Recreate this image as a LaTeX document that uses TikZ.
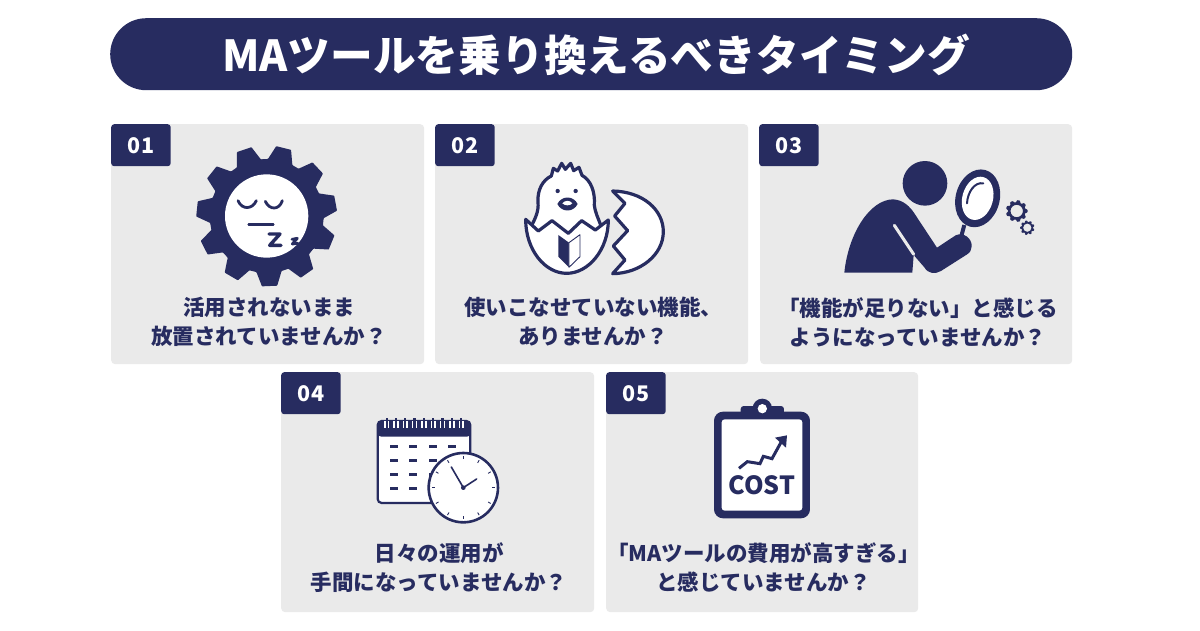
\documentclass[tikz,border=0pt]{standalone}
\usepackage{fontspec}
\usetikzlibrary{calc}
\setmainfont{Noto Sans CJK JP}
\definecolor{navy}{HTML}{272C60}
\definecolor{cardbg}{HTML}{EAEAEA}
\tikzset{
 cardbox/.style={fill=cardbg,rounded corners=4pt,minimum width=313pt,minimum height=240pt,anchor=north west,inner sep=0pt},
 tabbox/.style={fill=navy,rounded corners=3pt,minimum width=59.5pt,minimum height=42pt,anchor=north west,inner sep=0pt},
 tabtxt/.style={text=white,inner sep=0pt,font=\bfseries\fontsize{21.5}{21.5}\selectfont},
 captxt/.style={text=navy,align=center,inner sep=0pt,font=\bfseries\fontsize{21.5}{29}\selectfont},
 ico/.style={x=0.3333pt,y=-0.3333pt},
 nl/.style={draw=navy,line join=round,line cap=round},
}
\newcommand{\gearicon}[7]{% cx cy teeth-1 phase root tip hole
 \begin{scope}[shift={(#1,#2)},x=1pt,y=-1pt]
 \pgfmathsetmacro{\pp}{360/(#3+1)}
 \fill[navy,even odd rule,rounded corners=0.6pt] ({#4-0.39*\pp}:#5)
  foreach \i in {0,...,#3}{ -- ({#4+\i*\pp-0.39*\pp}:#5) -- ({#4+\i*\pp-0.19*\pp}:#6) -- ({#4+\i*\pp+0.19*\pp}:#6) -- ({#4+\i*\pp+0.39*\pp}:#5)} -- cycle
  (0,0) circle[radius=#7];
 \end{scope}}
\begin{document}
\begin{tikzpicture}[x=1pt,y=-1pt]
\useasboundingbox (0,0) rectangle (1200,630);
\fill[white] (0,0) rectangle (1200,630);
\node[fill=navy,rounded corners=36pt,minimum width=962pt,minimum height=72pt,inner sep=0pt,anchor=north west] (title) at (110,18) {};
\node[text=white,inner sep=0pt,font=\bfseries\fontsize{42.7}{42.7}\selectfont] (titletxt) at (596,55) {MAツールを乗り換えるべきタイミング};
\node[cardbox] (c1) at (111,124) {};
\node[cardbox] (c2) at (435,124) {};
\node[cardbox,minimum width=312pt] (c3) at (760,124) {};
\node[cardbox] (c4) at (281,372) {};
\node[cardbox,minimum width=312pt] (c5) at (606,372) {};
\node[tabbox] (t1) at (111,124) {};
\node[tabbox] (t2) at (435,124) {};
\node[tabbox] (t3) at (759,124) {};
\node[tabbox] (t4) at (281,372) {};
\node[tabbox] (t5) at (606,372) {};
\node[tabtxt] (n1) at (141,146) {01};
\node[tabtxt] (n2) at (465,146) {02};
\node[tabtxt] (n3) at (789,146) {03};
\node[tabtxt] (n4) at (311,394) {04};
\node[tabtxt] (n5) at (636,394) {05};
\node[captxt] (l1) at (269,322) {活用されないまま\\放置されていませんか？};
\node[captxt] (l2) at (593,322) {使いこなせていない機能、\\ありませんか？};
\node[captxt] (l3) at (918,322) {「機能が足りない」と感じる\\ようになっていませんか？};
\node[captxt] (l4) at (439,567.5) {日々の運用が\\手間になっていませんか？};
\node[captxt] (l5) at (763.5,567.5) {「MAツールの費用が高すぎる」\\と感じていませんか？};
% gear icon
\gearicon{266.7}{216}{10}{-76}{57}{70.5}{0.01}
\begin{scope}[shift={(180,135)},ico]
\fill[white] (260,243) circle[radius=125];
\draw[nl,line width=2.8pt] (174,197) .. controls (186,226) and (218,223) .. (229,197);
\draw[nl,line width=2.8pt] (256,199) .. controls (268,226) and (298,226) .. (307,197);
\draw[nl,line width=2.6pt] (206,268) -- (280,268);
\draw[nl,line width=3.4pt] (267,297) -- (300,297) -- (269,331) -- (303,331);
\draw[nl,line width=2.8pt] (336,313) -- (352,310) -- (337,327) -- (354,325);
\end{scope}
% chick icon
\begin{scope}[shift={(510,150)},ico]
\draw[nl,fill=white,line width=3.2pt] (124,78) -- (130,55) -- (143,63) -- (155,40) -- (166,58) -- (182,40) -- (191,62) -- (207,52) -- (216,76)
  .. controls (242,90) and (256,125) .. (253,165) .. controls (256,190) and (265,205) .. (272,225) -- (272,260) -- (70,260) -- (66,225)
  .. controls (75,205) and (87,185) .. (84,155) .. controls (82,120) and (98,90) .. (124,78) -- cycle;
\draw[nl,fill=white,line width=3.2pt] (47,208) -- (85,243) -- (126,212) -- (175,250) -- (215,212) -- (256,240) -- (295,210)
  .. controls (295,300) and (235,370) .. (170,370) .. controls (105,370) and (47,300) .. (47,208) -- cycle;
\fill[navy] (143,123) circle[radius=6.5] (197,123) circle[radius=6.5];
\fill[navy] (142,162) .. controls (155,136) and (190,136) .. (203,162) .. controls (190,188) and (155,188) .. (142,162) -- cycle;
\fill[white] (157,160) .. controls (165,150) and (180,150) .. (187,160) .. controls (180,168) and (165,168) .. (157,160) -- cycle;
\fill[navy] (145,255) -- (177,278) -- (177,352) -- (145,320) -- cycle;
\draw[nl,line width=0.9pt,fill=white] (177,278) -- (210,254) -- (210,320) -- (177,352) -- cycle;
\draw[nl,fill=white,line width=3.2pt] (308,123) .. controls (400,125) and (460,180) .. (460,245) .. controls (460,315) and (390,370) .. (308,371)
  -- (345,330) -- (310,288) -- (353,242) -- (314,198) -- (345,160) -- cycle;
\end{scope}
% person icon
\begin{scope}[shift={(835,150)},ico]
\fill[navy] (270,100) circle[radius=67];
\fill[navy] (28,368) .. controls (40,250) and (105,148) .. (175,148) .. controls (205,150) and (225,170) .. (238,190)
  -- (306,293) -- (362,256) .. controls (385,245) and (412,265) .. (410,290) .. controls (410,300) and (405,308) .. (395,314)
  -- (318,363) .. controls (300,373) and (280,372) .. (268,352) -- (236,315) -- (232,368) -- cycle;
\draw[cardbg,line width=3pt,line cap=round] (178,226) -- (236,313);
\draw[navy,line width=4pt] (388,225) -- (378,262);
\fill[navy,rotate around={-15:(428,145)}] (428,145) ellipse[x radius=66,y radius=88];
\fill[white,rotate around={-15:(428,145)}] (428,145) ellipse[x radius=46,y radius=66];
\draw[nl,line width=2pt] (396,160) .. controls (398,125) and (420,95) .. (445,100);
\end{scope}
\gearicon{1016.7}{211}{8}{0}{8.6}{10.9}{6.2}
\gearicon{1027.3}{227.7}{8}{20}{5.5}{7.3}{4.2}
% calendar icon
\begin{scope}[shift={(365,405)},ico]
\draw[navy,fill=white,line width=2.2pt,rounded corners=4pt] (38,48) rectangle (316,294);
\fill[navy,rounded corners=4pt] (37,47) -- (318,47) -- (318,95) -- (37,95) -- cycle;
\foreach \x in {65,93,121,149,177,205,233,261,289}{
 \fill[white] (\x-8,47) rectangle (\x+8,68);
 \fill[navy] (\x-3.5,38) rectangle (\x+3.5,68);
}
\foreach \y in {125,167,208,250}{
 \foreach \x in {88,145,203,260}{
  \fill[navy] (\x-12,\y-4.5) rectangle (\x+12,\y+4.5);
 }
}
\draw[navy,fill=white,line width=2.6pt] (295,248) circle[radius=104];
\foreach \a in {0,30,...,330}{
 \draw[navy,line width=0.9pt] ($(295,248)+(\a:86)$) -- ($(295,248)+(\a:95)$);
}
\draw[nl,line width=1.6pt] (295,248) -- (259,186);
\draw[nl,line width=1.6pt] (295,248) -- (335,222);
\fill[navy] (295,248) circle[radius=7];
\end{scope}
% clipboard icon
\begin{scope}[shift={(700,395)},ico]
\fill[navy,rounded corners=3pt] (122,33) rectangle (252,60);
\fill[navy,rounded corners=9pt] (42,50) rectangle (330,370);
\fill[white,rounded corners=3pt] (65,73) rectangle (307,347);
\fill[navy] (187,40) circle[radius=29];
\fill[white] (187,41) circle[radius=14];
\draw[navy,line width=3pt,line join=miter] (117,220) -- (142,200) -- (180,206) -- (190,184) -- (216,191) -- (243,142);
\fill[navy] (225,128) -- (261,121) -- (258,158) -- cycle;
\node[text=navy,inner sep=0pt,font=\bfseries\fontsize{25}{25}\selectfont] (cost) at (186,271) {COST};
\end{scope}
\end{tikzpicture}
\end{document}
